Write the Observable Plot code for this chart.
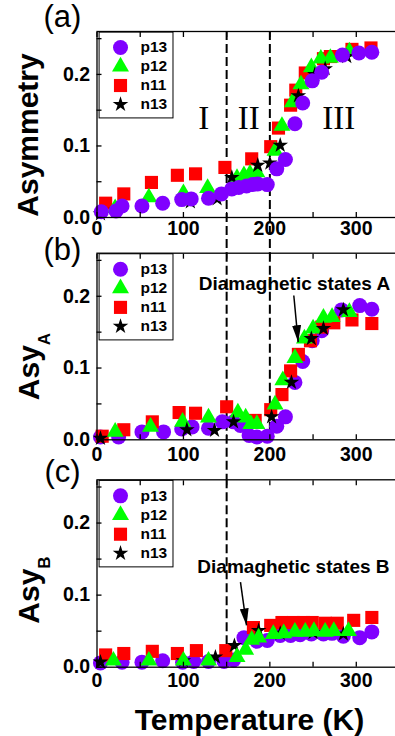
<!DOCTYPE html>
<html>
<head>
<meta charset="utf-8">
<script src="https://cdn.jsdelivr.net/npm/d3@7"></script>
<script src="https://cdn.jsdelivr.net/npm/@observablehq/plot@0.6"></script>
<style>
html, body { margin: 0; padding: 0; background: #fff; }
#chart { position: relative; width: 395px; height: 736px; overflow: hidden; background: #fff; }
#chart svg { position: absolute; left: 0; top: 0; }
</style>
</head>
<body>
<div id="chart"></div>
<script>
// ---------------- data ----------------
const seriesNames = ["p13", "p12", "n11", "n13"];

// panel (a) Asymmetry
const a_p13_T = [5, 22, 29, 52, 76, 98, 109, 129, 144, 156, 164, 173, 180, 186, 197, 208, 218, 229, 238, 249, 260, 284, 303, 318];
const a_p13_y = [0.008, 0.009, 0.016, 0.016, 0.020, 0.025, 0.026, 0.027, 0.033, 0.040, 0.042, 0.044, 0.046, 0.047, 0.046, 0.068, 0.081, 0.131, 0.160, 0.191, 0.203, 0.227, 0.230, 0.231];
const a_p12_T = [21, 60, 100, 128, 162, 170, 177, 185, 206, 214, 226, 236, 248, 259, 270, 292];
const a_p12_y = [0.013, 0.028, 0.034, 0.041, 0.055, 0.059, 0.061, 0.063, 0.093, 0.128, 0.161, 0.186, 0.210, 0.222, 0.223, 0.232];
const a_n11_T = [10, 31, 63, 93, 114, 148, 179, 201, 210, 224, 230, 241, 262, 270, 295, 317];
const a_n11_y = [0.020, 0.033, 0.049, 0.059, 0.061, 0.070, 0.082, 0.099, 0.125, 0.157, 0.178, 0.202, 0.222, 0.225, 0.235, 0.237];
const a_n13_T = [4, 22, 108, 139, 156, 186, 200, 212, 233, 252, 264, 289];
const a_n13_y = [0.005, 0.010, 0.022, 0.026, 0.056, 0.073, 0.076, 0.101, 0.170, 0.200, 0.208, 0.225];

// panel (b) Asy_A
const b_p13_T = [4, 25, 52, 77, 98, 110, 129, 145, 158, 166, 176, 185, 197, 208, 218, 229, 238, 249, 260, 283, 304, 318];
const b_p13_y = [0.004, 0.004, 0.011, 0.011, 0.015, 0.018, 0.016, 0.025, 0.025, 0.020, 0.006, 0.004, 0.005, 0.019, 0.032, 0.080, 0.109, 0.138, 0.152, 0.181, 0.187, 0.182];
const b_p12_T = [21, 62, 99, 129, 163, 172, 178, 185, 206, 215, 229, 240, 250, 262, 272, 292];
const b_p12_y = [0.011, 0.018, 0.025, 0.031, 0.038, 0.031, 0.022, 0.022, 0.049, 0.083, 0.114, 0.141, 0.155, 0.170, 0.171, 0.178];
const b_n11_T = [6, 31, 64, 95, 114, 150, 183, 201, 214, 224, 233, 247, 260, 274, 295, 318];
const b_n11_y = [0.005, 0.014, 0.025, 0.038, 0.037, 0.046, 0.027, 0.042, 0.063, 0.096, 0.119, 0.138, 0.157, 0.163, 0.167, 0.162];
const b_n13_T = [4, 104, 136, 158, 202, 225, 248, 262, 285];
const b_n13_y = [0.002, 0.014, 0.013, 0.025, 0.032, 0.080, 0.141, 0.155, 0.181];

// panel (c) Asy_B
const c_p13_T = [4, 29, 52, 76, 99, 112, 129, 147, 158, 170, 185, 197, 212, 224, 235, 248, 262, 272, 285, 304, 318];
const c_p13_y = [0.006, 0.007, 0.007, 0.009, 0.007, 0.008, 0.008, 0.008, 0.010, 0.041, 0.036, 0.037, 0.044, 0.044, 0.045, 0.046, 0.046, 0.047, 0.043, 0.041, 0.049];
const c_p12_T = [19, 60, 100, 129, 162, 172, 179, 187, 204, 216, 229, 241, 251, 264, 274, 291];
const c_p12_y = [0.009, 0.009, 0.009, 0.009, 0.014, 0.024, 0.038, 0.041, 0.046, 0.047, 0.049, 0.049, 0.050, 0.049, 0.050, 0.050];
const c_n11_T = [10, 31, 64, 93, 115, 149, 181, 201, 214, 227, 239, 249, 264, 278, 297, 318];
const c_n11_y = [0.017, 0.019, 0.022, 0.019, 0.023, 0.023, 0.055, 0.058, 0.062, 0.062, 0.062, 0.062, 0.061, 0.061, 0.065, 0.069];
const c_n13_T = [4, 100, 137, 159, 187, 212, 250, 285];
const c_n13_y = [0.007, 0.009, 0.014, 0.030, 0.051, 0.047, 0.048, 0.046];

// axes / annotations
const xTicks = [0, 50, 100, 150, 200, 250, 300, 350];
const xTickLabels = ["0", "", "100", "", "200", "", "300", ""];
const yTicks = [0, 0.05, 0.1, 0.15, 0.2, 0.25];
const yTickLabels = ["0.0", "", "0.1", "", "0.2", ""];
const regionLabels = ["I", "II", "III"];
const regionX = [123.6, 175.6, 279.8];
const regionY = [0.124, 0.124, 0.124];
const annotTexts = ["Diamaghetic states A", "Diamaghetic states B"];
const annotX = [228.5, 227.3];
const annotY = [0.2178, 0.1385];
const arrowX1 = [227.7, 166.0];
const arrowY1 = [0.201, 0.118];
const arrowX2 = [232.8, 173.0];
const arrowY2 = [0.136, 0.058];
const legendY = [0.2377, 0.2111, 0.1845, 0.158];

// ---------------- styling ----------------
const FONT = "'Liberation Sans', Arial, Helvetica, sans-serif";
const W = 395, H = 736;
const X_DOMAIN = [0, 350];
const Y_DOMAIN = [0, 0.26];
const seriesColors = ["#8000ff", "#00ff00", "#ff0000", "#000000"];
const seriesSymbols = ["circle", "triangle", "square", "star"];
const seriesR = [7.5, 6.3, 7.4, 4.9];

const rows = (T, Y) => T.map((t, i) => ({T: t, v: Y[i]}));

function solidHead(color, context) {
  const doc = (context && context.document) || document;
  const ns = "http://www.w3.org/2000/svg";
  const m = doc.createElementNS(ns, "marker");
  m.setAttribute("viewBox", "-17 -4.5 17 9");
  m.setAttribute("markerWidth", "17");
  m.setAttribute("markerHeight", "9");
  m.setAttribute("markerUnits", "userSpaceOnUse");
  m.setAttribute("orient", "auto");
  const p = doc.createElementNS(ns, "path");
  p.setAttribute("d", "M-17,-4.5L0,0L-17,4.5Z");
  p.setAttribute("fill", color);
  p.setAttribute("stroke", "none");
  m.appendChild(p);
  return m;
}

function makePanel(cfg) {
  const marks = [];
  // dashed region boundaries
  cfg.rules.forEach(([x, yEnd]) => {
    marks.push(Plot.ruleX([x], {y1: Y_DOMAIN[1], y2: yEnd, stroke: "#000", strokeWidth: 2, strokeDasharray: "9,4"}));
  });
  // data series
  cfg.order.forEach(i => {
    marks.push(Plot.dot(cfg.sets[i], {x: "T", y: "v", symbol: seriesSymbols[i], r: seriesR[i], fill: seriesColors[i], stroke: "none"}));
  });
  // legend
  marks.push(Plot.rect([0], {x1: 3, x2: 88.5, y1: 0.1385, y2: 0.2585, fill: "white", stroke: "#000", strokeWidth: 1}));
  seriesNames.forEach((name, i) => {
    marks.push(Plot.dot([name], {x: 27.2, y: legendY[i], symbol: seriesSymbols[i], r: seriesR[i], fill: seriesColors[i], stroke: "none"}));
  });
  marks.push(Plot.text(seriesNames, {x: 50.3, y: legendY, text: d => d, textAnchor: "start", lineAnchor: "middle", fontWeight: "bold", fontSize: 15.5, fill: "#000"}));
  if (cfg.extra) marks.push(...cfg.extra);
  // frame & axes
  marks.push(Plot.frame({stroke: "#000", strokeWidth: 1.3}));
  marks.push(Plot.axisY(yTicks, {anchor: "left", tickSize: -5, tickPadding: 12, strokeWidth: 1.3, tickFormat: (d, i) => yTickLabels[i], fontWeight: "bold", fontSize: 19.5, label: null}));
  marks.push(Plot.axisX(xTicks, {anchor: "bottom", tickSize: -5, tickPadding: cfg.xPad, strokeWidth: 1.3, tickFormat: (d, i) => xTickLabels[i], fontWeight: "bold", fontSize: 19.5, label: null}));
  marks.push(Plot.axisX(xTicks, {anchor: "top", tickSize: -5, strokeWidth: 1.3, fill: "none", label: null}));

  const svg = Plot.plot({
    width: W, height: H,
    marginLeft: 96.5, marginRight: -4,
    marginTop: cfg.top, marginBottom: H - cfg.bottom,
    x: {domain: X_DOMAIN},
    y: {domain: Y_DOMAIN},
    style: {fontFamily: FONT, background: "transparent", overflow: "visible", color: "#000"},
    marks
  });

  const s = d3.select(svg);
  // panel tag
  s.append("text").attr("x", 62.5).attr("y", cfg.tagBase).attr("text-anchor", "middle")
    .attr("font-family", FONT).attr("font-size", 31).attr("fill", "#000").text(cfg.tag);
  // y label (with optional subscript)
  const t = s.append("text")
    .attr("transform", `translate(${cfg.labelX},${cfg.labelY}) rotate(-90)`)
    .attr("text-anchor", "middle").attr("font-family", FONT).attr("font-weight", "bold")
    .attr("font-size", 30).attr("fill", "#000");
  t.append("tspan").text(cfg.label);
  if (cfg.sub) t.append("tspan").attr("font-size", 17).attr("dy", 11).text(cfg.sub);
  return svg;
}

const chart = document.getElementById("chart");

const svgA = makePanel({
  top: 31, bottom: 217,
  sets: [rows(a_p13_T, a_p13_y), rows(a_p12_T, a_p12_y), rows(a_n11_T, a_n11_y), rows(a_n13_T, a_n13_y)],
  order: [2, 1, 3, 0],
  rules: [[150, -0.05], [200, -0.05]],
  xPad: 8.5,
  tag: "(a)", tagBase: 27,
  label: "Asymmetry", sub: null, labelX: 38, labelY: 135,
  extra: [
    Plot.text(regionLabels, {x: regionX, y: regionY, text: d => d, lineAnchor: "bottom", fontFamily: "'Liberation Serif', 'Times New Roman', serif", fontSize: 33, fill: "#000"})
  ]
});
chart.appendChild(svgA);

const svgB = makePanel({
  top: 252.7, bottom: 439.3,
  sets: [rows(b_p13_T, b_p13_y), rows(b_p12_T, b_p12_y), rows(b_n11_T, b_n11_y), rows(b_n13_T, b_n13_y)],
  order: [0, 2, 1, 3],
  rules: [[150, -0.0557], [200, 0]],
  xPad: 12,
  tag: "(b)", tagBase: 260,
  label: "Asy", sub: "A", labelX: 39, labelY: 366.5,
  extra: [
    Plot.text([annotTexts[0]], {x: annotX[0], y: annotY[0], text: d => d, lineAnchor: "middle", fontWeight: "bold", fontSize: 19, fill: "#000"}),
    Plot.link([0], {x1: arrowX1[0], y1: arrowY1[0], x2: arrowX2[0], y2: arrowY2[0], stroke: "#000", strokeWidth: 1.5, markerEnd: solidHead})
  ]
});
chart.appendChild(svgB);

const svgC = makePanel({
  top: 479.3, bottom: 666.7,
  sets: [rows(c_p13_T, c_p13_y), rows(c_p12_T, c_p12_y), rows(c_n11_T, c_n11_y), rows(c_n13_T, c_n13_y)],
  order: [0, 2, 3, 1],
  rules: [[150, 0]],
  xPad: 11,
  tag: "(c)", tagBase: 482,
  label: "Asy", sub: "B", labelX: 39, labelY: 590,
  extra: [
    Plot.text([annotTexts[1]], {x: annotX[1], y: annotY[1], text: d => d, lineAnchor: "middle", fontWeight: "bold", fontSize: 19, fill: "#000"}),
    Plot.link([0], {x1: arrowX1[1], y1: arrowY1[1], x2: arrowX2[1], y2: arrowY2[1], stroke: "#000", strokeWidth: 1.5, markerEnd: solidHead})
  ]
});
d3.select(svgC).append("text").attr("x", 249.5).attr("y", 730).attr("text-anchor", "middle")
  .attr("font-family", FONT).attr("font-weight", "bold").attr("font-size", 30).attr("fill", "#000")
  .text("Temperature (K)");
chart.appendChild(svgC);
</script>
</body>
</html>
